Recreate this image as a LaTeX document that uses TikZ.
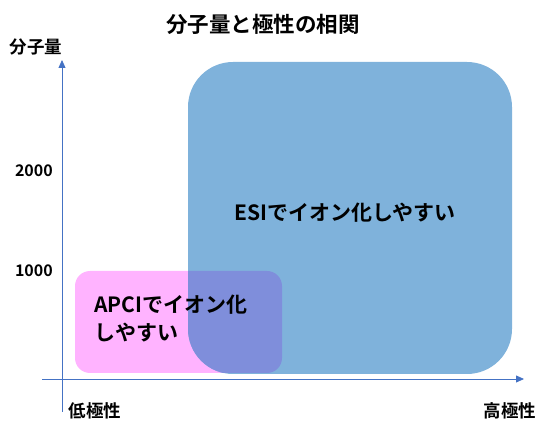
\documentclass[tikz,border=0pt]{standalone}
\usepackage{fontspec}
\setmainfont{Noto Sans CJK JP Bold}
\usetikzlibrary{arrows.meta}
\definecolor{bluebox}{HTML}{7FB2DB}
\definecolor{pinkbox}{HTML}{FFB3FF}
\definecolor{overlap}{HTML}{7F8EDB}
\definecolor{axisblue}{HTML}{4472C4}
\tikzset{
  axis/.style={draw=axisblue, line width=0.8pt},
  lbl/.style={inner sep=0pt, font=\fontsize{17.5}{20}\selectfont},
  big/.style={inner sep=0pt, font=\fontsize{21}{28}\selectfont},
  num/.style={inner sep=0pt, font=\fontsize{16}{18}\selectfont},
}
\begin{document}
\begin{tikzpicture}[x=1pt,y=-1pt]
\useasboundingbox (0,0) rectangle (542,422);
% boxes
\path[fill=pinkbox, rounded corners=15pt] (75,271) rectangle (282,373);
\path[fill=bluebox, rounded corners=45pt] (188,62) rectangle (512,374);
\begin{scope}
\clip[rounded corners=15pt] (75,271) rectangle (282,373);
\path[fill=overlap, rounded corners=45pt] (188,62) rectangle (512,374);
\end{scope}
% axes
\coordinate (xs) at (42,379);
\coordinate (xe) at (524,379);
\coordinate (ys) at (62,412);
\coordinate (ye) at (62,60);
\draw[axis, -{Triangle[length=8pt,width=7pt]}] (xs) -- (xe);
\draw[axis, -{Triangle[length=8pt,width=7pt]}] (ys) -- (ye);
% texts
\node[inner sep=0pt, font=\fontsize{21.5}{24}\selectfont] (title) at (263,24) {分子量と極性の相関};
\node[lbl] (ylab) at (36,47) {分子量};
\node[num, anchor=east] (n2000) at (53,171) {2000};
\node[num, anchor=east] (n1000) at (53,271) {1000};
\node[lbl] (low) at (95,411) {低極性};
\node[lbl] (high) at (510,411) {高極性};
\node[big] (esi) at (345,213) {ESIでイオン化しやすい};
\node[big, align=left, anchor=north west] (apci) at (94,295) {APCIでイオン化\\しやすい};
\end{tikzpicture}
\end{document}
